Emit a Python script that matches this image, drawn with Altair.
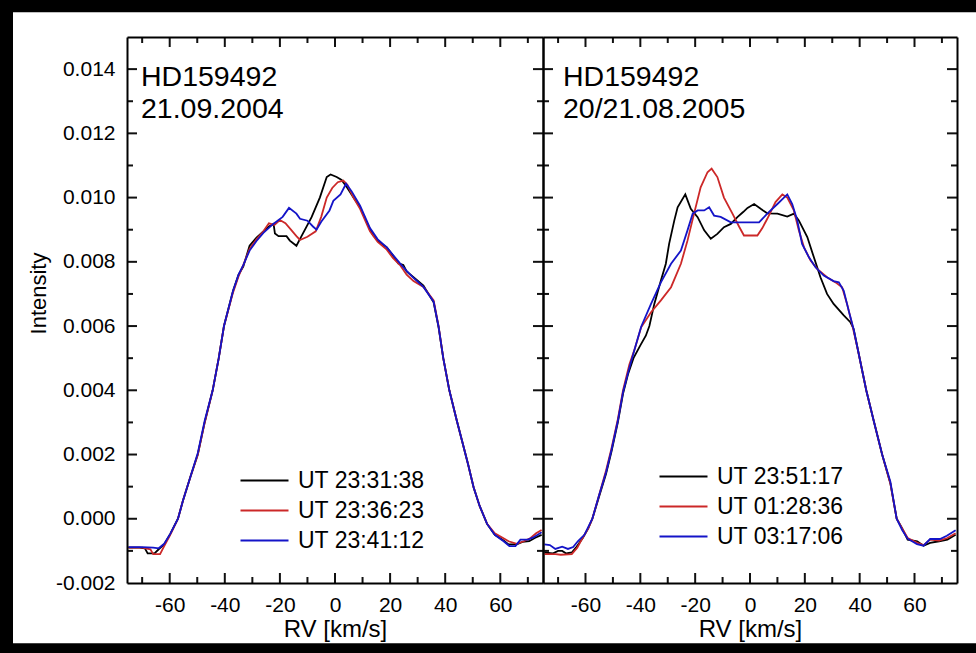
import altair as alt
import pandas as pd

FONT = "Liberation Sans"
MINUS = "\u2212"

RV_DOMAIN = [-75.5, 75.5]
INT_DOMAIN = [-0.002, 0.015]
X_MAJOR = [-60, -40, -20, 0, 20, 40, 60]
X_MINOR = [-70, -50, -30, -10, 10, 30, 50, 70]
Y_LABELED = [-0.002, 0.0, 0.002, 0.004, 0.006, 0.008, 0.010, 0.012, 0.014]
Y_MAJOR = [0.0, 0.002, 0.004, 0.006, 0.008, 0.010, 0.012, 0.014]
Y_MINOR = [-0.001, 0.001, 0.003, 0.005, 0.007, 0.009, 0.011, 0.013]

COLORS = ["#000000", "#cc2828", "#1414c8"]
TICK_COLOR = "#111111"

LEFT_LABELS = ["UT 23:31:38", "UT 23:36:23", "UT 23:41:12"]
RIGHT_LABELS = ["UT 23:51:17", "UT 01:28:36", "UT 03:17:06"]
LEFT_NOTE = ["HD159492", "21.09.2004"]
RIGHT_NOTE = ["HD159492", "20/21.08.2005"]

# ---- 21.09.2004 ----
L_BLACK_RV = [-75, -71, -69, -68, -65.5, -64, -62, -59.8, -57, -55.2, -52.5, -49.8, -47.3, -44.4, -42.2, -40.3, -37, -35, -33.3, -31,
              -28.5, -26, -24, -22.3, -21.8, -20.5, -17.6, -16.4, -14, -12.2, -8.5, -5.5, -3, -1.6, 0.6, 2.4, 4.5, 6.7, 9.1, 12.7,
              13.9, 16, 18.8, 21, 23, 24.8, 26, 28.5, 32.1, 35.8, 37.6, 39.3, 41.5, 44.2, 46.2, 48.3, 50.3, 52.5, 55.2, 58,
              61.2, 63, 66, 68, 70.5, 72.5, 75]
L_BLACK_I = [-0.00090, -0.00090, -0.00092, -0.00108, -0.00108, -0.00095, -0.00080, -0.00047, 0.0, 0.00056,
             0.00130, 0.00200, 0.00300, 0.00400, 0.00500, 0.00600, 0.00710, 0.00760, 0.00785, 0.00850,
             0.00875, 0.00895, 0.00910, 0.00918, 0.00888, 0.00880, 0.00880, 0.00866, 0.00850, 0.00879,
             0.00939, 0.01000, 0.01064, 0.01072, 0.01064, 0.01055, 0.01030, 0.01000, 0.00970, 0.00900,
             0.00882, 0.00862, 0.00845, 0.00820, 0.00795, 0.00790, 0.00770, 0.00752, 0.00726, 0.00674,
             0.00596, 0.00500, 0.00400, 0.00306, 0.00240, 0.00170, 0.00098, 0.00040, -0.00016, -0.00050,
             -0.00068, -0.00080, -0.00080, -0.00072, -0.00070, -0.00060, -0.00050]

L_RED_RV = [-75, -70, -67, -66, -63.5, -62, -59.8, -57, -55.2, -52.5, -49.8, -47.3, -44.4, -42.2, -40.3, -37, -35, -33.3, -31, -28.5,
            -26, -24, -22, -20, -18, -16, -14, -12.7, -10, -7, -5, -3, -1, 1, 3, 4.5, 6.7, 9.1, 12.7, 15.5,
            18.8, 21, 23.6, 26, 28.5, 32.1, 35.8, 37.6, 39.3, 41.5, 44.2, 46.2, 48.3, 50.3, 52.5, 55.2, 58, 61, 63, 66,
            68.5, 71, 73, 75]
L_RED_I = [-0.00090, -0.00090, -0.00095, -0.00110, -0.00110, -0.00085, -0.00050, 0.0, 0.00056, 0.00130,
           0.00200, 0.00300, 0.00400, 0.00500, 0.00600, 0.00705, 0.00755, 0.00790, 0.00840, 0.00870,
           0.00895, 0.00920, 0.00915, 0.00930, 0.00920, 0.00900, 0.00880, 0.00868, 0.00878, 0.00895,
           0.00940, 0.01000, 0.01030, 0.01048, 0.01053, 0.01040, 0.01000, 0.00965, 0.00895, 0.00862,
           0.00838, 0.00812, 0.00790, 0.00760, 0.00740, 0.00722, 0.00680, 0.00600, 0.00500, 0.00400,
           0.00306, 0.00240, 0.00170, 0.00098, 0.00040, -0.00016, -0.00045, -0.00060, -0.00070, -0.00078,
           -0.00070, -0.00060, -0.00045, -0.00035]

L_BLUE_RV = [-75, -70, -66, -64, -62, -59.8, -57, -55.2, -52.5, -49.8, -47.3, -44.4, -42.2, -40.3, -37, -35, -33.3, -31, -28.5, -26,
             -22.4, -19, -16.7, -14, -12.7, -10, -8, -6.7, -5, -2, -0.6, 2, 4, 6, 9.1, 12.7, 15.5, 18.8, 21, 23.6,
             26, 28.5, 32.1, 35.8, 37.6, 39.3, 41.5, 44.2, 46.2, 48.3, 50.3, 52.5, 55.2, 58, 61.2, 63.3, 65.5, 67.3, 70, 72,
             75]
L_BLUE_I = [-0.00088, -0.00088, -0.00090, -0.00092, -0.00078, -0.00047, 0.0, 0.00056, 0.00130, 0.00205,
            0.00305, 0.00400, 0.00500, 0.00600, 0.00710, 0.00760, 0.00790, 0.00835, 0.00865, 0.00890,
            0.00918, 0.00940, 0.00968, 0.00950, 0.00934, 0.00928, 0.00910, 0.00900, 0.00925, 0.00960,
            0.00990, 0.01010, 0.01043, 0.01020, 0.00975, 0.00905, 0.00870, 0.00845, 0.00822, 0.00795,
            0.00772, 0.00750, 0.00722, 0.00676, 0.00598, 0.00500, 0.00400, 0.00306, 0.00240, 0.00170,
            0.00098, 0.00040, -0.00016, -0.00050, -0.00070, -0.00085, -0.00085, -0.00065, -0.00065, -0.00058,
            -0.00042]

# ---- 20/21.08.2005 ----
R_BLACK_RV = [-75, -72, -70, -68.5, -67, -65, -63.5, -61, -59, -57.5, -55, -52.5, -50.5, -48.2, -46.3, -44.5, -42.5, -40, -38, -36.7,
              -34.9, -32.5, -30.7, -29.5, -27.6, -26.4, -23.6, -21.6, -19.1, -16.7, -14.3, -11.9, -9.5, -7, -4.6, -2.5, -0.9, 1.5, 3.9, 6.3,
              10, 13.6, 16, 17.8, 20.9, 23.3, 25.7, 28.1, 30.5, 34.2, 36.6, 37.8, 39.5, 42.4, 45.1, 48.2, 51.2, 53.5, 55.5, 57.5,
              61, 63.3, 65.7, 69, 72, 75]
R_BLACK_I = [-0.00105, -0.00108, -0.00100, -0.00100, -0.00108, -0.00105, -0.00090, -0.00060, -0.00030, 0.0,
             0.00070, 0.00140, 0.00210, 0.00300, 0.00390, 0.00450, 0.00500, 0.00540, 0.00570, 0.00600,
             0.00669, 0.00742, 0.00794, 0.00856, 0.00929, 0.00970, 0.01010, 0.00965, 0.00939, 0.00898,
             0.00872, 0.00887, 0.00908, 0.00918, 0.00939, 0.00955, 0.00968, 0.00980, 0.00965, 0.00951,
             0.00950, 0.00941, 0.00950, 0.00929, 0.00877, 0.00814, 0.00752, 0.00700, 0.00669, 0.00633,
             0.00612, 0.00591, 0.00520, 0.00400, 0.00306, 0.00200, 0.00110, 0.0, -0.00030, -0.00065,
             -0.00070, -0.00084, -0.00075, -0.00070, -0.00065, -0.00050]

R_RED_RV = [-75, -71, -69, -65, -63, -61.6, -59, -57.5, -55, -52.5, -50.5, -48.2, -46.3, -44, -42, -39.7, -36.1, -32.5, -28.8, -25.2,
            -22.8, -20.4, -18, -15.5, -14, -11.9, -9.5, -6.4, -4, -2.2, 2.7, 4.5, 6.3, 9.3, 11.8, 13.6, 16, 17.8, 19.7, 22.1,
            24.5, 28.1, 31.2, 33.6, 35.4, 37.2, 39.5, 42.4, 45.1, 48.2, 51.2, 53.5, 55.5, 57.5, 61, 63.3, 65.7, 69, 72, 75]
R_RED_I = [-0.00110, -0.00110, -0.00112, -0.00110, -0.00090, -0.00068, -0.00030, 0.0, 0.00075, 0.00150,
           0.00220, 0.00310, 0.00400, 0.00480, 0.00530, 0.00596, 0.00643, 0.00680, 0.00721, 0.00794,
           0.00866, 0.00950, 0.01032, 0.01079, 0.01090, 0.01064, 0.01000, 0.00950, 0.00910, 0.00882,
           0.00882, 0.00905, 0.00934, 0.00986, 0.01010, 0.01000, 0.00960, 0.00898, 0.00845, 0.00804,
           0.00778, 0.00752, 0.00736, 0.00721, 0.00669, 0.00607, 0.00520, 0.00400, 0.00306, 0.00200,
           0.00110, 0.0, -0.00030, -0.00060, -0.00075, -0.00082, -0.00065, -0.00068, -0.00060, -0.00045]

R_BLUE_RV = [-75, -73, -71, -68.5, -66.4, -64.5, -62.8, -60.4, -57.5, -55, -52.5, -50.5, -48.2, -46.3, -44, -42, -39.7, -36.1, -32.5, -28.8,
             -25.2, -22.8, -20.9, -19.1, -16.7, -14.9, -13.1, -10.7, -7, 3.3, 6.3, 10, 13.6, 15.4, 17.2, 19, 21.5, 23.9, 26.9, 30.5,
             32.4, 34.2, 36, 37.8, 39.5, 42.4, 45.1, 48.2, 51.2, 53.5, 55.5, 57.5, 60.9, 63.3, 65.7, 69.3, 71.8, 75]
R_BLUE_I = [-0.00080, -0.00082, -0.00094, -0.00087, -0.00094, -0.00088, -0.00070, -0.00050, 0.0, 0.00075,
            0.00145, 0.00215, 0.00305, 0.00395, 0.00470, 0.00530, 0.00598, 0.00669, 0.00736, 0.00794,
            0.00835, 0.00898, 0.00950, 0.00960, 0.00960, 0.00970, 0.00944, 0.00940, 0.00923, 0.00923,
            0.00950, 0.00980, 0.01010, 0.00980, 0.00930, 0.00856, 0.00814, 0.00783, 0.00757, 0.00740,
            0.00736, 0.00710, 0.00648, 0.00590, 0.00520, 0.00400, 0.00306, 0.00200, 0.00115, 0.0,
            -0.00035, -0.00062, -0.00079, -0.00084, -0.00063, -0.00063, -0.00053, -0.00036]

PANEL_H = 546
MAJOR_LEN = 10   # tick lengths in pixels
MINOR_LEN = 6
TICK_HALF = 1.0  # half tick thickness in pixels


def make_df(labels, series):
    parts = []
    for lab, (rv, it) in zip(labels, series):
        assert len(rv) == len(it), (lab, len(rv), len(it))
        parts.append(pd.DataFrame({"series": lab, "rv": rv, "intensity": it, "k": list(range(len(rv)))}))
    return pd.concat(parts, ignore_index=True)


def tick_df(width):
    """Inward tick marks on all four sides as thin filled boxes, in data units (from pixel sizes)."""
    x0, x1 = RV_DOMAIN
    y0, y1 = INT_DOMAIN
    px_x = (x1 - x0) / width
    px_y = (y1 - y0) / PANEL_H
    hx = TICK_HALF * px_x
    hy = TICK_HALF * px_y
    rows = []
    for vals, ln in [(X_MAJOR, MAJOR_LEN), (X_MINOR, MINOR_LEN)]:
        for v in vals:
            rows.append({"tx": v - hx, "tx2": v + hx, "ty": y0, "ty2": y0 + ln * px_y})
            rows.append({"tx": v - hx, "tx2": v + hx, "ty": y1 - ln * px_y, "ty2": y1})
    for vals, ln in [(Y_MAJOR, MAJOR_LEN), (Y_MINOR, MINOR_LEN)]:
        for v in vals:
            rows.append({"tx": x0, "tx2": x0 + ln * px_x, "ty": v - hy, "ty2": v + hy})
            rows.append({"tx": x1 - ln * px_x, "tx2": x1, "ty": v - hy, "ty2": v + hy})
    return pd.DataFrame(rows)


def edge_axis(orient):
    return alt.Axis(orient=orient, domain=True, domainColor="black", domainWidth=2,
                    ticks=False, labels=False, grid=False, zindex=2)


def panel(labels, series, note, width, note_x, legend_x, legend_y, show_y, with_bg):
    df = make_df(labels, series)
    xs = alt.Scale(domain=RV_DOMAIN, nice=False, zero=False)
    ys = alt.Scale(domain=INT_DOMAIN, nice=False, zero=False)

    def X(axis, title=""):
        return alt.X("rv:Q", scale=xs, axis=axis, title=title)

    def Y(axis, title=""):
        return alt.Y("intensity:Q", scale=ys, axis=axis, title=title)

    main_x = alt.Axis(orient="bottom", values=X_MAJOR, format="d",
                      labelExpr=f"replace(datum.label, '{MINUS}', '-')",
                      labelFont=FONT, labelFontSize=21, labelColor="black", labelPadding=11,
                      labelFlush=False, labelOverlap=False, ticks=False, domain=True,
                      domainColor="black", domainWidth=2, grid=False, titleFont=FONT,
                      titleFontSize=24, titleFontWeight="normal", titleColor="black",
                      titlePadding=2, zindex=2)
    if show_y:
        main_y = alt.Axis(orient="left", values=Y_LABELED, format=".3f",
                          labelExpr=f"replace(datum.label, '{MINUS}', '-')",
                          labelFont=FONT, labelFontSize=21, labelColor="black", labelPadding=12,
                          labelFlush=False, labelOverlap=False, ticks=False, domain=True,
                          domainColor="black", domainWidth=2, grid=False, titleFont=FONT,
                          titleFontSize=22, titleFontWeight="normal", titleColor="black",
                          titleAngle=270, titleBaseline="bottom", titleAlign="center",
                          titleX=-77, titleY=256, zindex=2)
        y_title = "Intensity"
    else:
        main_y = edge_axis("left")
        y_title = ""

    lines = alt.Chart(df).mark_line(strokeWidth=1.8, clip=True).encode(
        x=X(main_x, "RV [km/s]"),
        y=Y(main_y, y_title),
        color=alt.Color("series:N", scale=alt.Scale(domain=labels, range=COLORS),
                        legend=alt.Legend(orient="none", legendX=legend_x, legendY=legend_y,
                                          title=None, symbolType="M-5,0L1,0", symbolSize=256,
                                          symbolStrokeWidth=2, labelFont=FONT, labelFontSize=23,
                                          labelColor="black", rowPadding=6, labelOffset=6,
                                          padding=0)),
        order=alt.Order("k:Q"),
    )

    frame = alt.Chart(df).mark_point(opacity=0, size=1).encode(
        x=X(edge_axis("top")), y=Y(edge_axis("right")))

    ticks = alt.Chart(tick_df(width)).mark_rect(fill=TICK_COLOR, fillOpacity=1, strokeWidth=0).encode(
        x=alt.X("tx:Q", scale=xs, axis=None), x2="tx2:Q",
        y=alt.Y("ty:Q", scale=ys, axis=None), y2="ty2:Q",
    )

    text = alt.Chart(pd.DataFrame({"d": [0]})).mark_text(
        align="left", baseline="alphabetic", font=FONT, fontSize=28.5, lineHeight=31.6, color="black"
    ).encode(text=alt.value(note), x=alt.value(note_x), y=alt.value(49))

    layers = []
    if with_bg:
        bg = alt.Chart(pd.DataFrame({"d": [0]})).mark_rect(color="white").encode(
            x=alt.value(-114), x2=alt.value(849), y=alt.value(-24.7), y2=alt.value(606.3))
        layers.append(bg)
    layers += [ticks, lines, frame, text]
    return alt.layer(*layers).resolve_axis(x="independent", y="independent").properties(
        width=width, height=PANEL_H)


left = panel(LEFT_LABELS, [(L_BLACK_RV, L_BLACK_I), (L_RED_RV, L_RED_I), (L_BLUE_RV, L_BLUE_I)],
             LEFT_NOTE, 416, 14, 142, 432, True, True)
right = panel(RIGHT_LABELS, [(R_BLACK_RV, R_BLACK_I), (R_RED_RV, R_RED_I), (R_BLUE_RV, R_BLUE_I)],
              RIGHT_NOTE, 414, 20, 145, 428, False, False)

chart = alt.hconcat(left, right, spacing=0, bounds="flush").resolve_scale(
    color="independent", x="independent", y="independent"
).properties(
    background="black",
    padding={"left": 13, "top": 12, "right": 0, "bottom": 10},
).configure_view(strokeWidth=0)

chart.save("out.html", embed_options={"renderer": "svg", "actions": False})
